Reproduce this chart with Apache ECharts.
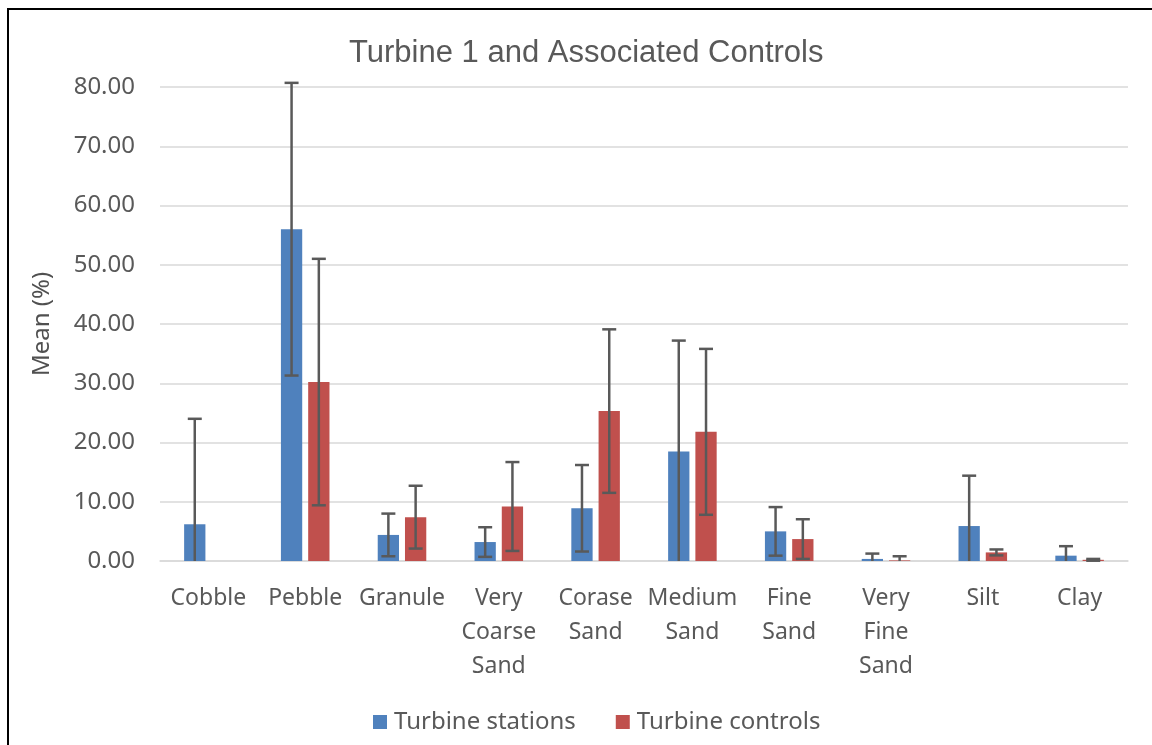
<!DOCTYPE html>
<html>
<head>
<meta charset="utf-8">
<style>
  html, body { margin: 0; padding: 0; background: #fff; }
  #chart { width: 1152px; height: 745px; }
</style>
<script src="https://cdn.jsdelivr.net/npm/echarts@6/dist/echarts.min.js"></script>
</head>
<body>
<div id="chart"></div>
<script>
const categories = ['Cobble', 'Pebble', 'Granule', 'Very\nCoarse\nSand', 'Corase\nSand', 'Medium\nSand', 'Fine\nSand', 'Very\nFine\nSand', 'Silt', 'Clay'];
const stations = [6.2, 56.0, 4.4, 3.2, 8.9, 18.5, 5.0, 0.35, 5.9, 0.9];
const stationsErr = [17.8, 24.7, 3.6, 2.5, 7.3, 18.7, 4.1, 0.9, 8.5, 1.6];
const controls = [0, 30.2, 7.4, 9.2, 25.3, 21.8, 3.7, 0.1, 1.45, 0.2];
const controlsErr = [0, 20.8, 5.3, 7.5, 13.8, 14.0, 3.35, 0.7, 0.5, 0.15];
const seriesNames = ['Turbine stations', 'Turbine controls'];
const yTicks = { min: 0, max: 80, interval: 10 };

const BAR_W = 0.22;   // fraction of category band
const BAR_GAP = 0.28; // fraction of bar width
const FONT = "'Noto Sans', 'Open Sans', sans-serif";

function errorSeries(name, means, errs, side) {
  const data = means.map((m, i) => [i, m, errs[i]]);
  return {
    type: 'custom',
    name: name + ' error',
    clip: false,
    silent: true,
    z: 5,
    renderItem: function (params, api) {
      const idx = api.value(0);
      const m = api.value(1);
      const e = api.value(2);
      if (!e) return null;
      const band = api.size([1, 0])[0];
      const off = side * band * (BAR_W + BAR_W * BAR_GAP) / 2;
      const lowVal = m - e;
      const clipped = lowVal < yTicks.min;
      const top = api.coord([idx, m + e]);
      const bot = api.coord([idx, clipped ? yTicks.min : lowVal]);
      const x = top[0] + off;
      const cap = 7;
      const style = { stroke: '#595959', lineWidth: 2.5, fill: null };
      const children = [
        { type: 'line', shape: { x1: x, y1: top[1], x2: x, y2: bot[1] }, style: style },
        { type: 'line', shape: { x1: x - cap, y1: top[1], x2: x + cap, y2: top[1] }, style: style }
      ];
      if (!clipped) {
        children.push({ type: 'line', shape: { x1: x - cap, y1: bot[1], x2: x + cap, y2: bot[1] }, style: style });
      }
      return { type: 'group', children: children };
    },
    data: data
  };
}

const chart = echarts.init(document.getElementById('chart'), null, { renderer: 'canvas' });
chart.setOption({
  backgroundColor: '#ffffff',
  animation: false,
  title: {
    text: 'Turbine 1 and Associated Controls',
    left: 349,
    top: 38,
    padding: 0,
    textStyle: { fontFamily: "'Liberation Sans', Arial, sans-serif", fontSize: 31, fontWeight: 'normal', color: '#595959' }
  },
  legend: {
    data: seriesNames,
    bottom: 6,
    left: 368,
    icon: 'rect',
    itemWidth: 14,
    itemHeight: 14,
    itemGap: 40,
    textStyle: { fontFamily: FONT, fontSize: 24, color: '#595959', padding: [0, 0, 0, 2] }
  },
  graphic: [{
    type: 'rect',
    silent: true,
    shape: { x: 8, y: 9, width: 1300, height: 900 },
    style: { fill: null, stroke: '#000', lineWidth: 2 }
  }],
  grid: { left: 160, right: 24, top: 87, bottom: 184, containLabel: false },
  xAxis: {
    type: 'category',
    data: categories,
    axisTick: { show: false },
    axisLine: { lineStyle: { color: '#d9d9d9', width: 1.5 } },
    axisLabel: { interval: 0, fontFamily: FONT, fontSize: 23, color: '#595959', lineHeight: 34, margin: 20 }
  },
  yAxis: {
    type: 'value',
    min: yTicks.min,
    max: yTicks.max,
    interval: yTicks.interval,
    name: 'Mean (%)',
    nameLocation: 'middle',
    nameGap: 106,
    nameTextStyle: { fontFamily: FONT, fontSize: 24, color: '#505050' },
    axisLine: { show: false },
    axisTick: { show: false },
    splitLine: { lineStyle: { color: '#d9d9d9', width: 1.5 } },
    axisLabel: { fontFamily: FONT, fontSize: 24, color: '#595959', margin: 25, formatter: v => v.toFixed(2) }
  },
  series: [
    { type: 'bar', name: seriesNames[0], data: stations, barWidth: (BAR_W * 100) + '%', barGap: (BAR_GAP * 100) + '%', itemStyle: { color: '#4F81BD' } },
    { type: 'bar', name: seriesNames[1], data: controls, barWidth: (BAR_W * 100) + '%', barGap: (BAR_GAP * 100) + '%', itemStyle: { color: '#C0504D' } },
    errorSeries(seriesNames[0], stations, stationsErr, -1),
    errorSeries(seriesNames[1], controls, controlsErr, 1)
  ]
});
</script>
</body>
</html>
